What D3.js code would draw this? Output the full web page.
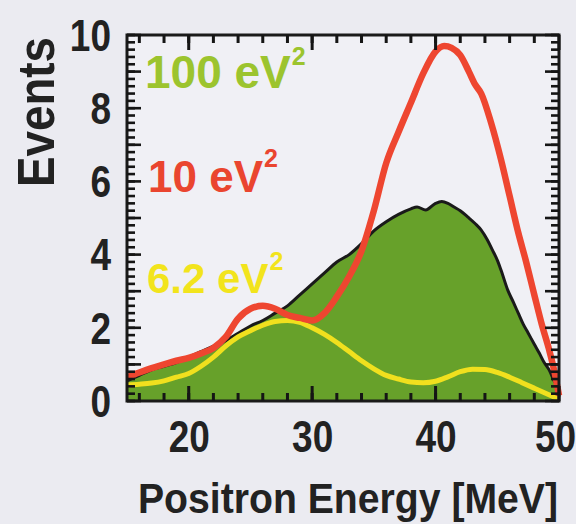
<!DOCTYPE html>
<html>
<head>
<meta charset="utf-8">
<script src="https://cdn.jsdelivr.net/npm/d3@7"></script>
<style>
  body { margin: 0; background: #ebebf1; }
  svg text { font-family: "Liberation Sans", Arial, sans-serif; font-weight: bold; }
  .stretch { transform-box: fill-box; transform-origin: center; transform: scaleY(1.22); }
</style>
</head>
<body>
<svg id="chart" width="576" height="524"></svg>
<script>
// energy grid for each series (MeV)
const energy100 = [15, 16, 17, 18, 19, 20, 21, 22, 23, 24, 25, 26, 27, 28, 29, 30, 31, 32, 33, 34, 35, 36, 37, 38, 38.5, 39.2, 40, 40.5, 41, 41.5, 42, 42.6, 43.2, 43.7, 44.2, 44.6, 45, 45.3, 45.85, 46.3, 46.7, 47.1, 47.5, 48, 48.4, 48.8, 49.2, 49.6, 49.9, 50];
const events100 = [0.55, 0.7, 0.85, 0.95, 1.05, 1.2, 1.35, 1.5, 1.65, 1.85, 2.05, 2.2, 2.4, 2.6, 2.9, 3.2, 3.5, 3.8, 4.0, 4.3, 4.65, 4.9, 5.1, 5.25, 5.3, 5.22, 5.4, 5.45, 5.4, 5.3, 5.2, 5.03, 4.85, 4.67, 4.4, 4.13, 3.85, 3.58, 3.03, 2.7, 2.4, 2.1, 1.86, 1.55, 1.31, 1.05, 0.85, 0.55, 0.38, 0.12];

const energy10 = [15, 16, 17, 18, 19, 20, 21, 22, 23, 24, 25, 26, 27, 28, 29, 30, 31, 32, 33, 34, 35, 36, 37, 38, 39, 40, 40.7, 41.3, 42, 42.7, 43.2, 43.7, 44.5, 45.3, 46, 46.7, 47.3, 48, 48.6, 49.2, 49.6, 50];
const events10 = [0.65, 0.78, 0.9, 1.0, 1.1, 1.18, 1.3, 1.45, 1.75, 2.25, 2.52, 2.6, 2.52, 2.35, 2.27, 2.2, 2.4, 2.85, 3.4, 4.1, 5.2, 6.5, 7.35, 8.15, 8.95, 9.55, 9.7, 9.65, 9.45, 9.0, 8.65, 8.4, 7.6, 6.6, 5.6, 4.6, 3.85, 2.9, 2.1, 1.4, 0.85, 0.15];

const energy62 = [15, 16, 17, 18, 19, 20, 21, 22, 23, 24, 25, 26, 27, 28, 29, 30, 31, 32, 33, 34, 35, 36, 37, 38, 39, 40, 41, 42, 43, 44, 45, 46, 47, 48, 49, 50];
const events62 = [0.44, 0.46, 0.49, 0.55, 0.65, 0.75, 0.95, 1.2, 1.5, 1.75, 1.92, 2.07, 2.17, 2.2, 2.15, 2.0, 1.82, 1.6, 1.35, 1.1, 0.88, 0.7, 0.6, 0.52, 0.5, 0.54, 0.66, 0.8, 0.87, 0.86, 0.78, 0.65, 0.5, 0.35, 0.2, 0.05];

const xTicks = [20, 30, 40, 50];
const yTicks = [0, 2, 4, 6, 8, 10];
const labels = [
  { text: "100 eV", color: "#9cc42e", x: 145, y: 88, size: 46, supY: 65 },
  { text: "10 eV", color: "#ea452f", x: 148, y: 192, size: 44, supY: 167 },
  { text: "6.2 eV", color: "#f2e41c", x: 147, y: 293, size: 42, supY: 270 }
];

const pLeft = 127, pRight = 559, pTop = 35, pBottom = 401;
const svg = d3.select("#chart");

const x = d3.scaleLinear().domain([15, 50]).range([pLeft, pRight]);
const y = d3.scaleLinear().domain([0, 10]).range([pBottom, pTop]);

svg.append("rect").attr("x", pLeft).attr("y", pTop)
  .attr("width", pRight - pLeft).attr("height", pBottom - pTop)
  .attr("fill", "#f0f0f5");

const line = d3.line().x(d => x(d[0])).y(d => y(d[1])).curve(d3.curveMonotoneX);

// green filled spectrum
const pts100 = energy100.map((e, i) => [e, events100[i]]);
svg.append("path")
  .datum(pts100)
  .attr("fill", "#67a12a")
  .attr("d", d3.area().x(d => x(d[0])).y0(y(0)).y1(d => y(d[1])).curve(d3.curveMonotoneX));
svg.append("path")
  .datum(pts100)
  .attr("fill", "none").attr("stroke", "#1a1a1a").attr("stroke-width", 3)
  .attr("d", line);

svg.append("path")
  .datum(energy62.map((e, i) => [e, events62[i]]))
  .attr("fill", "none").attr("stroke", "#f0e01e").attr("stroke-width", 5)
  .attr("d", line);

svg.append("path")
  .datum(energy10.map((e, i) => [e, events10[i]]))
  .attr("fill", "none").attr("stroke", "#ee4630").attr("stroke-width", 6.5)
  .attr("stroke-linejoin", "round")
  .attr("d", line);

svg.append("rect").attr("x", pLeft).attr("y", pTop)
  .attr("width", pRight - pLeft).attr("height", pBottom - pTop)
  .attr("fill", "none").attr("stroke", "#1a1a1a").attr("stroke-width", 3);

// tick marks on all four sides, as small filled rects placed by the scales
const xMinor = d3.range(16, 50, 2);
const yMinor = d3.range(0, 10.01, 0.2);
const yMid = d3.range(0, 11, 1);
const tickG = svg.append("g").attr("fill", "#151515");

function xMarks(values, len) {
  tickG.selectAll(null).data(values).join("rect")
    .attr("x", d => x(d) - 1.5).attr("width", 3)
    .attr("y", pBottom - len).attr("height", len);
  tickG.selectAll(null).data(values).join("rect")
    .attr("x", d => x(d) - 1.5).attr("width", 3)
    .attr("y", pTop).attr("height", len);
}
function yMarks(values, len) {
  tickG.selectAll(null).data(values).join("rect")
    .attr("y", d => y(d) - 1.3).attr("height", 2.6)
    .attr("x", pLeft).attr("width", len);
  tickG.selectAll(null).data(values).join("rect")
    .attr("y", d => y(d) - 1.3).attr("height", 2.6)
    .attr("x", pRight - len).attr("width", len);
}
xMarks(xMinor, 8);
xMarks(xTicks, 15);
yMarks(yMinor, 8);
yMarks(yMid, 14);

// tick labels
const yAxis = svg.append("g").attr("transform", `translate(${pLeft},0)`)
  .call(d3.axisLeft(y).tickValues(yTicks).tickSize(0).tickPadding(16).tickFormat(d3.format("d")));
yAxis.select(".domain").remove();
yAxis.selectAll("text").attr("class", "stretch").attr("font-size", 37)
  .attr("fill", "#222").attr("dy", null).attr("dominant-baseline", "central");

const xAxis = svg.append("g").attr("transform", `translate(0,${pBottom})`)
  .call(d3.axisBottom(x).tickValues(xTicks).tickSize(0).tickPadding(36).tickFormat(d3.format("d")));
xAxis.select(".domain").remove();
xAxis.selectAll("text").attr("class", "stretch").attr("font-size", 37)
  .attr("fill", "#222").attr("dy", null).attr("dominant-baseline", "central")
  .attr("dx", d => d === 50 ? -4 : 0);

// axis titles
svg.append("text")
  .attr("x", 138).attr("y", 513)
  .attr("font-size", 43).attr("fill", "#222")
  .attr("textLength", 420).attr("lengthAdjust", "spacingAndGlyphs")
  .text("Positron Energy [MeV]");

svg.append("text")
  .attr("transform", "translate(54,187) rotate(-90)")
  .attr("font-size", 52).attr("fill", "#222")
  .attr("textLength", 150).attr("lengthAdjust", "spacingAndGlyphs")
  .text("Events");

// series labels
labels.forEach(l => {
  const t = svg.append("text").attr("x", l.x).attr("y", l.y)
    .attr("font-size", l.size).attr("fill", l.color).text(l.text);
  const w = t.node().getComputedTextLength();
  svg.append("text").attr("x", l.x + w + 1).attr("y", l.supY)
    .attr("font-size", 25).attr("fill", l.color).text("2");
});
</script>
</body>
</html>
